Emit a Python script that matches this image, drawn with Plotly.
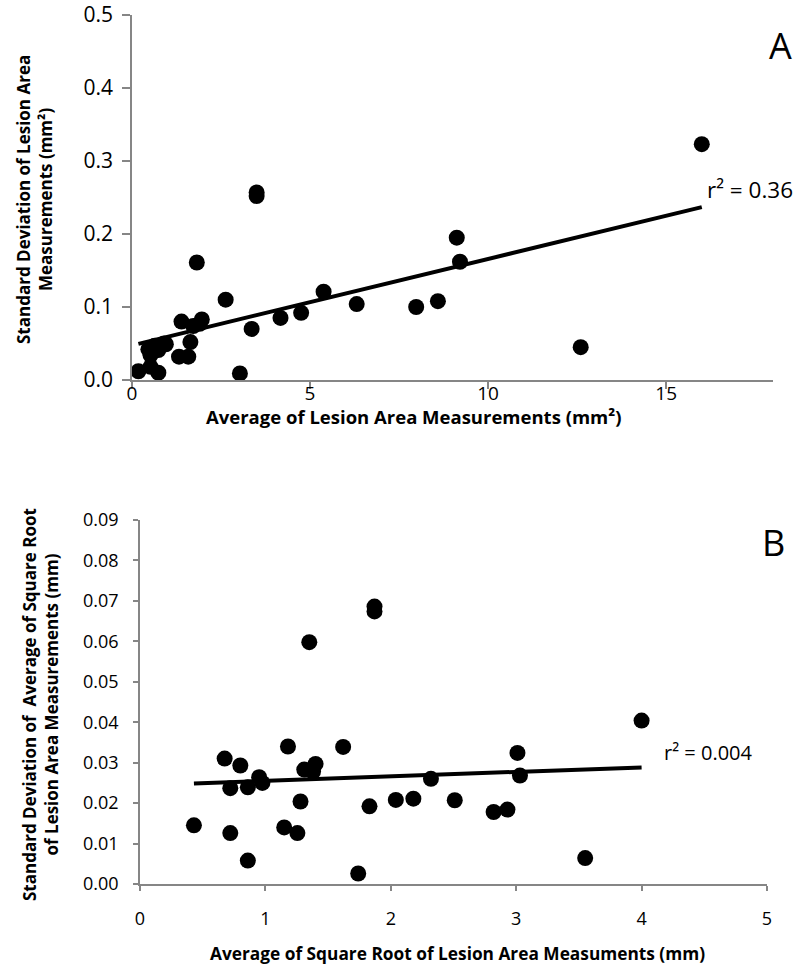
import numpy as np
import plotly.graph_objects as go

# Panel A: average lesion area (mm^2) vs SD of area (mm^2)
area_avg = [0.18, 0.46, 0.52, 0.52, 0.64, 0.74, 0.74, 0.90, 0.95, 1.32, 1.39, 1.58,
            1.64, 1.72, 1.82, 1.90, 1.96, 2.63, 3.03, 3.36, 3.50, 3.50, 4.17, 4.75,
            5.38, 6.31, 7.98, 8.59, 9.12, 9.21, 12.6, 16.0]
area_sd = [0.012, 0.042, 0.034, 0.018, 0.047, 0.041, 0.010, 0.050, 0.049, 0.032, 0.080, 0.032,
           0.052, 0.074, 0.161, 0.077, 0.083, 0.110, 0.009, 0.070, 0.257, 0.252, 0.085, 0.092,
           0.121, 0.104, 0.100, 0.108, 0.195, 0.162, 0.045, 0.323]

# Panel B: average sqrt area (mm) vs SD of sqrt area (mm)
sqrt_avg = [0.43, 0.675, 0.72, 0.72, 0.80, 0.86, 0.86, 0.95, 0.976, 1.15, 1.18, 1.255,
            1.28, 1.31, 1.35, 1.38, 1.40, 1.62, 1.74, 1.83, 1.87, 1.87, 2.04, 2.18,
            2.32, 2.51, 2.82, 2.93, 3.01, 3.03, 3.55, 4.0]
sqrt_sd = [0.0145, 0.031, 0.0237, 0.0126, 0.0293, 0.0239, 0.0058, 0.0264, 0.025, 0.014, 0.034, 0.0126,
           0.0204, 0.0283, 0.0598, 0.0278, 0.0297, 0.0339, 0.0026, 0.0192, 0.0686, 0.0674, 0.0208, 0.0211,
           0.026, 0.0207, 0.0178, 0.0184, 0.0324, 0.0268, 0.0064, 0.0404]

ticks_a_x = [0, 5, 10, 15]
ticks_a_y = [0.0, 0.1, 0.2, 0.3, 0.4, 0.5]
ticks_b_x = [0, 1, 2, 3, 4, 5]
ticks_b_y = [0.00, 0.01, 0.02, 0.03, 0.04, 0.05, 0.06, 0.07, 0.08, 0.09]

r2_a = "r² = 0.36"
r2_b = "r² = 0.004"

FONT = "Open Sans"
GRAY = "#868686"

def trend(x, y):
    x = np.array(x); y = np.array(y)
    b, a = np.polyfit(x, y, 1)
    xs = np.array([x.min(), x.max()])
    return xs, a + b * xs

fig = go.Figure()

ta_x, ta_y = trend(area_avg, area_sd)
tb_x, tb_y = trend(sqrt_avg, sqrt_sd)

fig.add_trace(go.Scatter(x=area_avg, y=area_sd, mode="markers",
                         marker=dict(size=16, color="black"), xaxis="x", yaxis="y", showlegend=False))
fig.add_trace(go.Scatter(x=ta_x, y=ta_y, mode="lines", line=dict(color="black", width=4),
                         xaxis="x", yaxis="y", showlegend=False))
fig.add_trace(go.Scatter(x=sqrt_avg, y=sqrt_sd, mode="markers",
                         marker=dict(size=16, color="black"), xaxis="x2", yaxis="y2", showlegend=False))
fig.add_trace(go.Scatter(x=tb_x, y=tb_y, mode="lines", line=dict(color="black", width=4),
                         xaxis="x2", yaxis="y2", showlegend=False))

W, H = 800, 971
def dx(p): return p / W
def dy(p): return 1 - p / H

def ax(size, ticklen, standoff):
    return dict(showgrid=False, zeroline=False, showline=True, linecolor=GRAY, linewidth=1.5,
                ticks="outside", tickcolor=GRAY, ticklen=ticklen, tickwidth=1.5, automargin=False,
                ticklabelstandoff=standoff, ticklabeloverflow="allow",
                tickfont=dict(family=FONT, size=size, color="black"))

fig.update_layout(
    width=W, height=H, margin=dict(l=0, r=0, t=0, b=0, autoexpand=False),
    paper_bgcolor="white", plot_bgcolor="white",
    xaxis=dict(domain=[dx(132), dx(773)], range=[0, 18], tickvals=ticks_a_x,
               anchor="y", **ax(19, 7, -12)),
    yaxis=dict(domain=[dy(380), dy(15)], range=[0, 0.5], tickvals=ticks_a_y, tickformat=".1f",
               anchor="x", **ax(21, 8, 5)),
    xaxis2=dict(domain=[dx(140), dx(767)], range=[0, 5], tickvals=ticks_b_x,
                anchor="y2", **ax(18, 5, 13)),
    yaxis2=dict(domain=[dy(884), dy(520)], range=[0, 0.09], tickvals=ticks_b_y, tickformat=".2f",
                anchor="x2", **ax(18, 5, 11)),
)

def note(text, x, y, size, bold=False, angle=0):
    fig.add_annotation(x=dx(x), y=dy(y), xref="paper", yref="paper", text=f"<b>{text}</b>" if bold else text,
                       showarrow=False, textangle=angle, xanchor="center", yanchor="middle",
                       font=dict(family=FONT, size=size, color="black"))

note("Average of Lesion Area Measurements (mm²)", 414, 416, 18.5, bold=True)
note("Standard Deviation of Lesion Area<br>Measurements (mm²)", 34, 200, 17, bold=True, angle=-90)
note("Average of Square Root of Lesion Area Measuments (mm)", 457, 953, 17.3, bold=True)
note("Standard Deviation of  Average of Square Root<br>of Lesion Area Measurements (mm)", 40, 705, 17, bold=True, angle=-90)
note("A", 780, 45, 36)
note("B", 773, 542, 36)
fig.add_annotation(x=dx(705), y=dy(189), xref="paper", yref="paper", text=r2_a, showarrow=False,
                   xanchor="left", yanchor="middle", font=dict(family=FONT, size=22.5, color="black"))
fig.add_annotation(x=dx(662), y=dy(752), xref="paper", yref="paper", text=r2_b, showarrow=False,
                   xanchor="left", yanchor="middle", font=dict(family=FONT, size=20, color="black"))

# remove the default page margin so the 800x971 figure fills the window exactly
fig.write_html("out.html", config={"displayModeBar": False},
               post_script="document.body.style.margin='0';document.body.style.overflow='hidden';")
